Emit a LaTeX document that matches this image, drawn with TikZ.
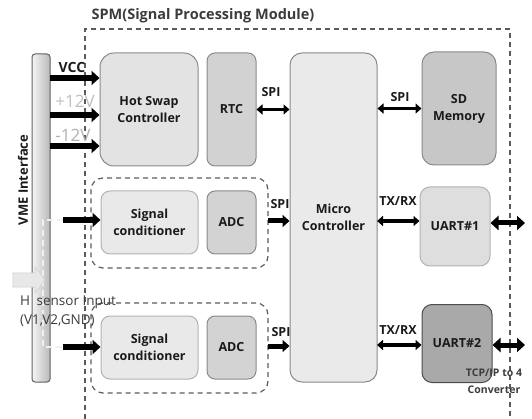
\documentclass[tikz,border=0pt]{standalone}
\usepackage{fontspec}
\setmainfont{Open Sans}
\usetikzlibrary{arrows.meta}
\definecolor{frm}{HTML}{5A5A5A}
\definecolor{bord}{HTML}{8A8A8A}
\definecolor{hsfill}{HTML}{E3E3E3}
\definecolor{rtcfill}{HTML}{D2D2D2}
\definecolor{mcufill}{HTML}{EAEAEA}
\definecolor{sdfill}{HTML}{C7C7C7}
\definecolor{u1fill}{HTML}{DEDEDE}
\definecolor{u2fill}{HTML}{A9A9A9}
\definecolor{scfill}{HTML}{E9E9E9}
\definecolor{adcfill}{HTML}{D3D3D3}
\definecolor{txt}{HTML}{1A1A1A}
\definecolor{softtxt}{HTML}{3C3C3C}
\tikzset{
  box/.style={draw=bord, line width=1pt, inner sep=0pt, align=center,
    font=\bfseries\fontsize{12.5}{17}\selectfont, text=txt},
  grp/.style={draw=frm, line width=1.2pt, dash pattern=on 5pt off 4pt, rounded corners=12pt, inner sep=0pt},
  frame/.style={draw=frm, line width=1.2pt, dash pattern=on 5pt off 4pt},
  bigarrow/.style={line width=6pt, -{Triangle[length=8pt,width=14pt]}, black},
  dblarrow/.style={line width=3.5pt, {Triangle[length=6pt,width=10pt]}-{Triangle[length=6pt,width=10pt]}, black},
  extarrow/.style={line width=5pt, {Triangle[length=8pt,width=14pt]}-{Triangle[length=8pt,width=14pt]}, black},
  lbl/.style={font=\bfseries\fontsize{12.5}{14}\selectfont, text=txt, inner sep=0pt},
  route/.style={draw=white!88!gray, line width=2.2pt, dash pattern=on 6pt off 4pt},
}
\begin{document}
\begin{tikzpicture}[x=1pt,y=-1pt]
\useasboundingbox (0,0) rectangle (532,419);
% outer frame
\draw[frame] (85,419) -- (85,29) -- (510,29) -- (510,419);
\node[lbl, text=softtxt, font=\bfseries\fontsize{14.5}{16}\selectfont] (title) at (203,16) {SPM(Signal Processing Module)};
% VME bar
\node[draw=gray!75!black, line width=1pt, rounded corners=3pt, left color=white!92!gray, right color=gray!55,
      minimum width=18pt, minimum height=328pt, inner sep=0pt] (vme) at (41,218) {};
\node[rotate=90, font=\bfseries\fontsize{13}{16}\selectfont, text=txt, inner sep=0pt] (vmelbl) at (23,180) {VME Interface};
% groups
\node[grp, minimum width=177pt, minimum height=90pt] (g1) at (179.5,223) {};
\node[grp, minimum width=177pt, minimum height=90pt] (g2) at (179.5,348) {};
% boxes
\node[box, fill=hsfill, rounded corners=14pt, minimum width=98pt, minimum height=113pt] (hs) at (149,109.5) {Hot Swap\\Controller};
\node[box, fill=rtcfill, rounded corners=8pt, minimum width=49pt, minimum height=113pt] (rtc) at (231.5,109.5) {RTC};
\node[box, fill=mcufill, rounded corners=12pt, minimum width=87pt, minimum height=329pt] (mcu) at (333.5,217.5) {Micro\\Controller};
\node[box, fill=sdfill, rounded corners=12pt, minimum width=74pt, minimum height=113pt] (sd) at (459,108.5) {SD\\Memory};
\node[box, fill=u1fill, draw=gray!60, rounded corners=10pt, minimum width=70pt, minimum height=79pt] (u1) at (455,226.5) {UART\#1};
\node[box, fill=u2fill, draw=gray!60!black, rounded corners=10pt, minimum width=70pt, minimum height=78pt] (u2) at (457,343.5) {UART\#2};
\node[box, fill=scfill, draw=gray!60, rounded corners=9pt, minimum width=97pt, minimum height=63pt] (sc1) at (149.5,222.5) {Signal\\conditioner};
\node[box, fill=adcfill, rounded corners=8pt, minimum width=49pt, minimum height=63pt] (adc1) at (231.5,222.5) {ADC};
\node[box, fill=scfill, draw=gray!60, rounded corners=9pt, minimum width=97pt, minimum height=63pt] (sc2) at (149.5,347.5) {Signal\\conditioner};
\node[box, fill=adcfill, rounded corners=8pt, minimum width=49pt, minimum height=63pt] (adc2) at (231.5,347.5) {ADC};
% power arrows
\coordinate (pv) at (50,78);
\coordinate (p12) at (50,115);
\coordinate (m12) at (50,146);
\draw[bigarrow] (pv) -- (pv -| hs.west);
\draw[bigarrow] (p12) -- (p12 -| hs.west);
\draw[bigarrow] (m12) -- (m12 -| hs.west);
\node[font=\bfseries\fontsize{14}{16}\selectfont, text=txt, inner sep=0pt] (vcc) at (72,68) {VCC};
\node[font=\fontsize{17}{18}\selectfont, text=gray!50, inner sep=0pt] (v12p) at (75,101) {+12V};
\node[font=\fontsize{17}{18}\selectfont, text=gray!62, inner sep=0pt] (v12m) at (73,135) {-12V};
% sensor routing
\coordinate (r1) at (43,220);
\coordinate (r2) at (43,347);
\coordinate (s1) at (63,220);
\coordinate (s2) at (63,347);
\draw[route] (s1) -- (r1) -- (r2) -- (s2);
\draw[bigarrow] (s1) -- (s1 -| sc1.west);
\draw[bigarrow] (s2) -- (s2 -| sc2.west);
% H sensor arrow
\filldraw[fill=white!82!gray, draw=gray!35, line width=0.6pt] (13,273) -- (35,273) -- (35,267) -- (45,280) -- (35,293) -- (35,287) -- (13,287) -- cycle;
\node[font=\fontsize{13.5}{14}\selectfont, text=softtxt, inner sep=0pt, anchor=west] (hs1) at (20,302) {H\hspace{3pt} sensor Input};
\node[font=\fontsize{13.5}{14}\selectfont, text=softtxt, inner sep=0pt, anchor=west] (hs2) at (20,321) {(V1,V2,GND)};
% SPI links
\draw[dblarrow] (rtc.east) -- (rtc.east -| mcu.west);
\node[lbl] (spi1) at (271,92) {SPI};
\draw[dblarrow] (sd.west -| mcu.east) -- (sd.west);
\node[lbl] (spi2) at (400,97) {SPI};
\coordinate (a1) at (268,221);
\coordinate (a2) at (268,346);
\draw[line width=5pt, -{Triangle[length=7pt,width=12pt]}] (a1) -- (a1 -| mcu.west);
\draw[line width=5pt, -{Triangle[length=7pt,width=12pt]}] (a2) -- (a2 -| mcu.west);
\node[lbl] (spi3) at (280,204) {SPI};
\node[lbl] (spi4) at (281,332) {SPI};
% TX/RX
\coordinate (t1) at (377,221);
\coordinate (t2) at (377,345);
\draw[dblarrow] (t1) -- (t1 -| u1.west);
\draw[dblarrow] (t2) -- (t2 -| u2.west);
\node[lbl] (tx1) at (398,201) {TX/RX};
\node[lbl] (tx2) at (398,330) {TX/RX};
% external
\coordinate (e1) at (525,223);
\coordinate (e2) at (525,345);
\draw[extarrow] (u1.east |- e1) -- (e1);
\draw[extarrow] (u2.east |- e2) -- (e2);
\node[font=\bfseries\fontsize{10.5}{17}\selectfont, text=softtxt, inner sep=0pt, align=center] (tcp) at (494,381) {TCP/IP to 4\\Converter};
\end{tikzpicture}
\end{document}
